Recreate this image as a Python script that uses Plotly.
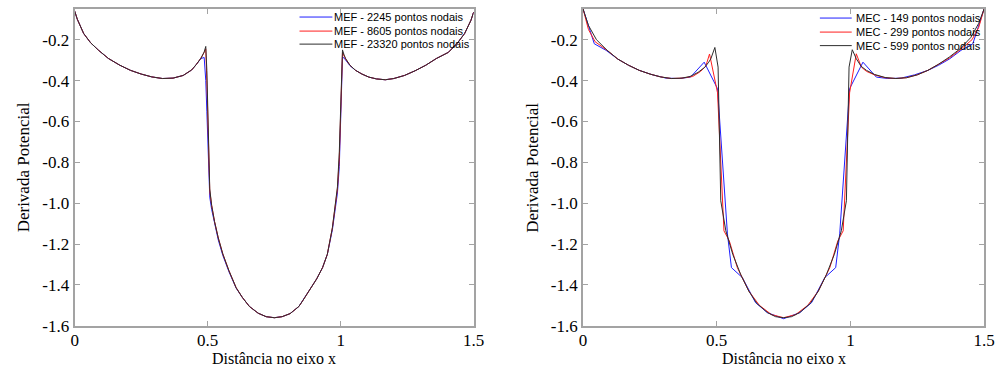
import plotly.graph_objects as go

# ---------------- Left panel: MEF ----------------
mef_x = [0, 0.01, 0.034, 0.06, 0.09, 0.127, 0.17, 0.21, 0.25, 0.29, 0.33, 0.37, 0.408, 0.44,
         0.457, 0.475, 0.487, 0.493, 0.497, 0.501, 0.505, 0.508, 0.515, 0.526, 0.54, 0.557,
         0.58, 0.607, 0.63, 0.657, 0.69, 0.72, 0.751, 0.78, 0.81, 0.843, 0.857, 0.882, 0.91,
         0.932, 0.95, 0.969, 0.98, 0.988, 0.995, 1.0, 1.003, 1.007, 1.013, 1.019, 1.035,
         1.056, 1.08, 1.106, 1.135, 1.168, 1.2, 1.24, 1.28, 1.32, 1.36, 1.405, 1.44, 1.466,
         1.49, 1.5]
mef_23320 = [-0.06, -0.10, -0.17, -0.215, -0.252, -0.292, -0.325, -0.35, -0.368, -0.382, -0.39,
             -0.388, -0.375, -0.348, -0.322, -0.29, -0.26, -0.233, -0.35, -0.62, -0.82, -0.93,
             -1.01, -1.09, -1.17, -1.248, -1.33, -1.413, -1.46, -1.505, -1.538, -1.555, -1.56,
             -1.555, -1.54, -1.505, -1.478, -1.43, -1.37, -1.315, -1.25, -1.12, -1.01, -0.92,
             -0.75, -0.55, -0.35, -0.25, -0.275, -0.293, -0.325, -0.35, -0.368, -0.383, -0.392,
             -0.396, -0.39, -0.375, -0.352, -0.325, -0.292, -0.262, -0.215, -0.17, -0.105, -0.065]
mef_8605 = [-0.06, -0.10, -0.17, -0.215, -0.252, -0.292, -0.325, -0.35, -0.368, -0.382, -0.39,
            -0.388, -0.375, -0.348, -0.322, -0.29, -0.262, -0.245, -0.40, -0.66, -0.84, -0.94,
            -1.01, -1.09, -1.17, -1.248, -1.33, -1.413, -1.46, -1.505, -1.538, -1.555, -1.56,
            -1.555, -1.54, -1.505, -1.478, -1.43, -1.37, -1.315, -1.25, -1.12, -1.01, -0.93,
            -0.78, -0.60, -0.40, -0.262, -0.28, -0.295, -0.325, -0.35, -0.368, -0.383, -0.392,
            -0.396, -0.39, -0.375, -0.352, -0.325, -0.292, -0.262, -0.215, -0.17, -0.105, -0.065]
mef_2245 = [-0.06, -0.10, -0.17, -0.215, -0.252, -0.292, -0.325, -0.35, -0.368, -0.382, -0.39,
            -0.388, -0.375, -0.348, -0.322, -0.292, -0.287, -0.40, -0.55, -0.75, -0.90, -0.97,
            -1.03, -1.10, -1.18, -1.255, -1.335, -1.415, -1.46, -1.505, -1.538, -1.555, -1.56,
            -1.555, -1.54, -1.505, -1.478, -1.43, -1.37, -1.315, -1.25, -1.13, -1.03, -0.95,
            -0.82, -0.62, -0.42, -0.285, -0.29, -0.30, -0.327, -0.35, -0.368, -0.383, -0.392,
            -0.396, -0.39, -0.375, -0.352, -0.325, -0.292, -0.262, -0.215, -0.17, -0.105, -0.065]

# ---------------- Right panel: MEC ----------------
mec149_x = [0, 0.042, 0.086, 0.13, 0.17, 0.21, 0.26, 0.31, 0.36, 0.402, 0.453, 0.503, 0.54,
            0.555, 0.596, 0.645, 0.689, 0.75, 0.811, 0.855, 0.904, 0.945, 0.96, 0.997, 1.047,
            1.097, 1.14, 1.19, 1.24, 1.29, 1.33, 1.37, 1.414, 1.458, 1.5]
mec149_y = [-0.05, -0.22, -0.252, -0.295, -0.325, -0.35, -0.372, -0.388, -0.39, -0.383, -0.31,
            -0.44, -1.15, -1.315, -1.364, -1.486, -1.535, -1.565, -1.535, -1.486, -1.364, -1.315,
            -1.15, -0.44, -0.31, -0.383, -0.39, -0.388, -0.372, -0.35, -0.325, -0.295, -0.252,
            -0.22, -0.05]

mec299_x = [0, 0.02, 0.045, 0.09, 0.13, 0.17, 0.21, 0.25, 0.29, 0.33, 0.37, 0.41, 0.44, 0.459,
            0.473, 0.503, 0.527, 0.547, 0.577, 0.62, 0.66, 0.705, 0.75, 0.795, 0.84, 0.88, 0.923,
            0.953, 0.973, 0.997, 1.022, 1.041, 1.06, 1.09, 1.13, 1.17, 1.21, 1.25, 1.29, 1.33,
            1.37, 1.41, 1.455, 1.48, 1.5]
mec299_y = [-0.05, -0.15, -0.21, -0.252, -0.295, -0.325, -0.35, -0.368, -0.382, -0.39, -0.388,
            -0.38, -0.355, -0.33, -0.27, -0.46, -1.135, -1.184, -1.315, -1.43, -1.5, -1.545,
            -1.56, -1.545, -1.5, -1.43, -1.315, -1.184, -1.135, -0.46, -0.269, -0.334, -0.355,
            -0.372, -0.386, -0.39, -0.386, -0.372, -0.35, -0.322, -0.29, -0.25, -0.2, -0.14,
            -0.05]

mec599_x = [0, 0.02, 0.05, 0.09, 0.13, 0.17, 0.21, 0.25, 0.29, 0.33, 0.37, 0.40, 0.43, 0.455,
            0.47, 0.478, 0.493, 0.505, 0.515, 0.534, 0.56, 0.59, 0.62, 0.65, 0.69, 0.72, 0.75,
            0.78, 0.81, 0.85, 0.88, 0.91, 0.94, 0.966, 0.985, 0.995, 1.007, 1.022, 1.04, 1.06,
            1.09, 1.13, 1.17, 1.21, 1.25, 1.29, 1.33, 1.37, 1.41, 1.45, 1.48, 1.5]
mec599_y = [-0.05, -0.13, -0.2, -0.252, -0.295, -0.325, -0.35, -0.368, -0.382, -0.39, -0.388,
            -0.38, -0.36, -0.335, -0.31, -0.293, -0.238, -0.334, -0.988, -1.135, -1.25, -1.35,
            -1.43, -1.49, -1.535, -1.555, -1.56, -1.555, -1.535, -1.49, -1.43, -1.35, -1.25,
            -1.135, -0.988, -0.334, -0.249, -0.293, -0.33, -0.35, -0.37, -0.385, -0.39, -0.386,
            -0.372, -0.35, -0.32, -0.285, -0.245, -0.19, -0.12, -0.05]

y_ticks = [-0.2, -0.4, -0.6, -0.8, -1.0, -1.2, -1.4, -1.6]
y_ticktext = ["-0.2", "-0.4", "-0.6", "-0.8", "-1.0", "-1.2", "-1.4", "-1.6"]
x_ticks = [0, 0.5, 1, 1.5]
x_ticktext = ["0", "0.5", "1", "1.5"]

BLUE = "rgb(30,30,255)"
RED = "rgb(255,30,30)"
BLACK = "rgb(45,45,45)"

# reference pixel grid: positions are expressed on it and converted to paper fractions
RW, RH = 997, 369
# canvas size (the photographed page maps this canvas onto the 997x369 picture)
FW, FH = 1007, 380
serif = "Liberation Serif, Times New Roman, serif"
sans = "Liberation Sans, Arial, sans-serif"

def px(x):
    return x / RW

def py(y):
    return 1 - y / RH

fig = go.Figure()

series = [
    (mef_x, mef_2245, "MEF - 2245 pontos nodais", BLUE, "x", "y"),
    (mef_x, mef_8605, "MEF - 8605 pontos nodais", RED, "x", "y"),
    (mef_x, mef_23320, "MEF - 23320 pontos nodais", BLACK, "x", "y"),
    (mec149_x, mec149_y, "MEC - 149 pontos nodais", BLUE, "x2", "y2"),
    (mec299_x, mec299_y, "MEC - 299 pontos nodais", RED, "x2", "y2"),
    (mec599_x, mec599_y, "MEC - 599 pontos nodais", BLACK, "x2", "y2"),
]
for x, y, name, color, xa, ya in series:
    fig.add_trace(go.Scatter(x=x, y=y, mode="lines", name=name,
                             line=dict(color=color, width=1),
                             xaxis=xa, yaxis=ya, showlegend=False))

# compact legends (line sample + label) in the upper right of each panel
legend_specs = [
    (297, 330, 330, [17, 31, 44], series[0:3]),
    (820, 852, 854, [18, 32, 45.5], series[3:6]),
]
for lx0, lx1, tx, rows, items in legend_specs:
    for ry, item in zip(rows, items):
        fig.add_shape(type="line", xref="paper", yref="paper",
                      x0=px(lx0), x1=px(lx1), y0=py(ry), y1=py(ry),
                      line=dict(color=item[3], width=1))
        fig.add_annotation(text=item[2], x=px(tx), y=py(ry), xref="paper", yref="paper",
                           showarrow=False, xanchor="left", yanchor="middle",
                           font=dict(family=sans, size=11, color="black"))

axis_common = dict(showline=True, linecolor="#a3a3a3", linewidth=2, mirror="ticks",
                   ticks="inside", ticklen=5, tickcolor="#a3a3a3", showgrid=False,
                   zeroline=False, tickfont=dict(family=serif, size=17, color="black"))

y_dom = [py(325), py(9)]
fig.update_layout(
    width=FW, height=FH, margin=dict(l=0, r=0, t=0, b=0),
    paper_bgcolor="white", plot_bgcolor="white", showlegend=False,
    xaxis=dict(domain=[px(71), px(472)], range=[0, 1.5], tickvals=x_ticks,
               ticktext=x_ticktext, anchor="y", ticklabelstandoff=-2, **axis_common),
    yaxis=dict(domain=y_dom, range=[-1.6, -0.05], tickvals=y_ticks,
               ticktext=y_ticktext, anchor="x", **axis_common),
    xaxis2=dict(domain=[px(582), px(985)], range=[0, 1.5], tickvals=x_ticks,
                ticktext=x_ticktext, anchor="y2", ticklabelstandoff=-2, **axis_common),
    yaxis2=dict(domain=y_dom, range=[-1.6, -0.05], tickvals=y_ticks,
                ticktext=y_ticktext, anchor="x2", **axis_common),
)

for xc in [(71 + 472) / 2, (582 + 985) / 2]:
    fig.add_annotation(text="Distância no eixo x", x=px(xc), y=py(358), xref="paper",
                       yref="paper", showarrow=False, font=dict(family=serif, size=16, color="black"),
                       xanchor="center", yanchor="middle")
for xp in [20, 531]:
    fig.add_annotation(text="Derivada Potencial", x=px(xp), y=py(167), xref="paper",
                       yref="paper", showarrow=False, textangle=-90,
                       font=dict(family=serif, size=17, color="black"),
                       xanchor="center", yanchor="middle")

fig.write_html("out.html")
